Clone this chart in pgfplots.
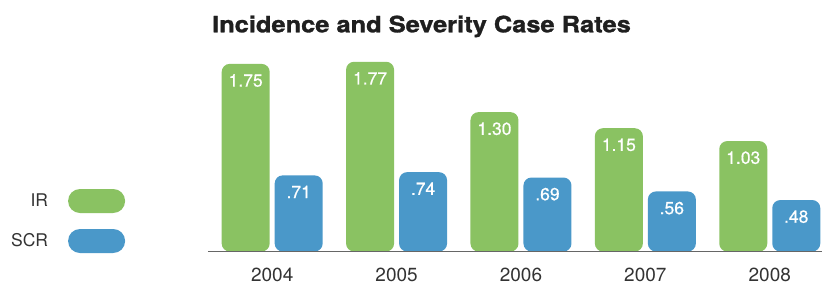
\documentclass[border=0pt]{standalone}
\usepackage{fontspec}
\setmainfont{TeX Gyre Heros}
\newfontfamily\titlefont[FakeBold=1.3, FakeStretch=1.13]{TeX Gyre Heros Bold}
\newfontfamily\valfont[FakeBold=0.6]{TeX Gyre Heros}
\usepackage{pgfplots}
\pgfplotsset{compat=1.18}
\usepackage{pgfplotstable}
\definecolor{irgreen}{HTML}{8AC262}
\definecolor{scrblue}{HTML}{4A98C9}
\definecolor{txt}{HTML}{333333}
\definecolor{axisgray}{HTML}{666666}

\pgfplotstableread{
x v lab
0 1.75 1.75
1 1.77 1.77
2 1.30 1.30
3 1.15 1.15
4 1.03 1.03
}\irdata
\pgfplotstableread{
x v lab
0 0.71 .71
1 0.74 .74
2 0.69 .69
3 0.56 .56
4 0.48 .48
}\scrdata

\begin{document}
\begin{tikzpicture}[x=1pt,y=1pt]
\useasboundingbox (0,0) rectangle (822,284);
\node[anchor=base, font=\fontsize{22.5}{26}\titlefont, text=black!88, inner sep=0pt] at (421.5,251.7) {Incidence and Severity Case Rates};
\begin{axis}[
  at={(208pt,32.5pt)}, anchor=south west,
  scale only axis, width=614pt, height=211.5pt,
  xmin=-0.516, xmax=4.42, ymin=0.2, ymax=2.173,
  ybar=5pt, bar width=48pt,
  y filter/.expression={y+0.2},
  axis x line*=bottom, axis y line=none,
  x axis line style={-, draw=axisgray, line width=1.5pt},
  axis on top,
  xtick=data, xticklabels={2004,2005,2006,2007,2008},
  major tick length=0pt,
  xticklabel style={anchor=base, yshift=-29.8pt, font=\fontsize{19}{22}\selectfont, text=txt},
  nodes near coords, point meta=explicit symbolic,
  every node near coord/.append style={anchor=base, yshift=-22.7pt, text=white, font=\fontsize{17.5}{20}\valfont},
  legend plot pos=right, legend cell align=right,
  legend style={at={(-0.1347,0.1442)}, anchor=east, draw=none, fill=none, inner sep=0pt, row sep=16pt, column sep=20pt, font=\fontsize{17.5}{20}\selectfont, text=txt, nodes={inner sep=0pt}},
]
\addplot[fill=irgreen, draw=none, rounded corners=8pt,
  legend image code/.code={\fill[irgreen, rounded corners=11.9pt] (0pt,-12pt) rectangle (57pt,12pt);}]
  table[x=x,y=v,meta=lab]{\irdata};
\addlegendentry{IR}
\addplot[fill=scrblue, draw=none, rounded corners=8pt,
  legend image code/.code={\fill[scrblue, rounded corners=11.9pt] (0pt,-12pt) rectangle (57pt,12pt);}]
  table[x=x,y=v,meta=lab]{\scrdata};
\addlegendentry{SCR}
\end{axis}
\end{tikzpicture}
\end{document}
